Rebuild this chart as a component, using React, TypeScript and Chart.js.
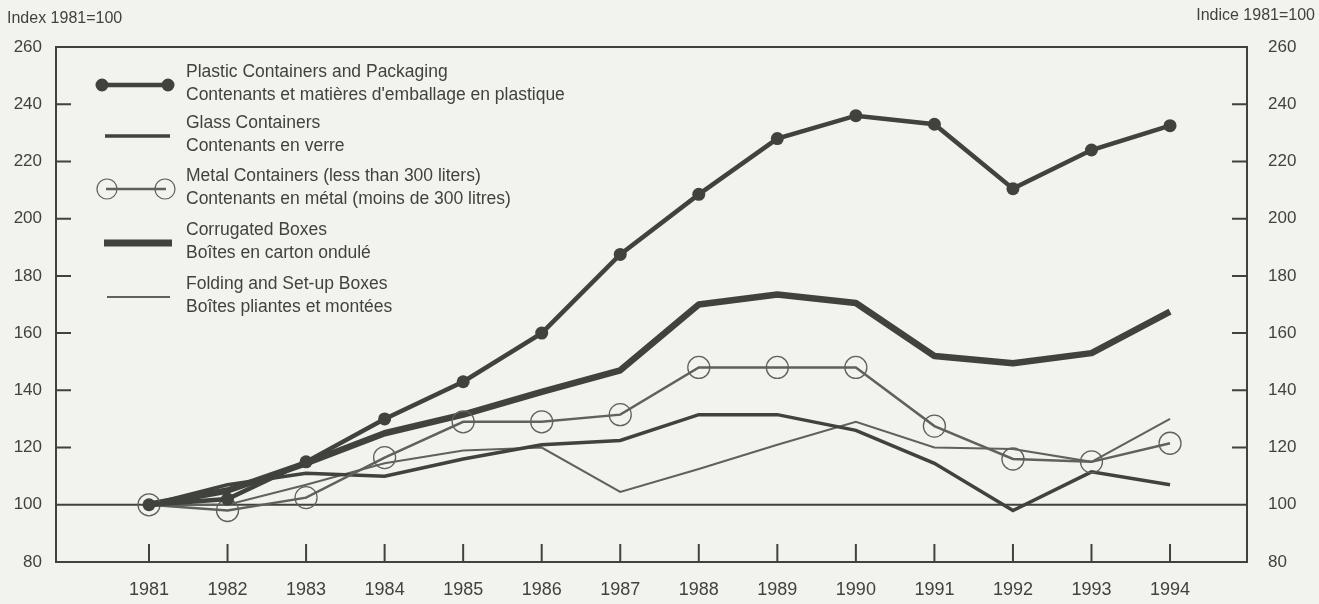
import React, { useEffect, useRef } from "react";
import { Chart, registerables } from "chart.js";

Chart.register(...registerables);

const years = [1981, 1982, 1983, 1984, 1985, 1986, 1987, 1988, 1989, 1990, 1991, 1992, 1993, 1994];
const plastic = [100, 102, 115, 130, 143, 160, 187.5, 208.5, 228, 236, 233, 210.5, 224, 232.5];
const glass = [100, 107, 111, 110, 116, 121, 122.5, 131.5, 131.5, 126, 114.5, 98, 111.5, 107];
const metal = [100, 98, 102.5, 116.5, 129, 129, 131.5, 148, 148, 148, 127.5, 116, 115, 121.5];
const corrugated = [100, 105, 114.5, 125, 131.5, 139.5, 147, 170, 173.5, 170.5, 152, 149.5, 153, 167.5];
const folding = [100, 100, 107, 114.5, 119, 120, 104.5, 112.5, 121, 129, 120, 119.5, 115, 130];
const yTickValues = [120, 140, 160, 180, 200, 220, 240];

const legendEn = [
  "Plastic Containers and Packaging",
  "Glass Containers",
  "Metal Containers (less than 300 liters)",
  "Corrugated Boxes",
  "Folding and Set-up Boxes",
];
const legendFr = [
  "Contenants et matières d'emballage en plastique",
  "Contenants en verre",
  "Contenants en métal (moins de 300 litres)",
  "Boîtes en carton ondulé",
  "Boîtes pliantes et montées",
];
const leftTitle = "Index 1981=100";
const rightTitle = "Indice 1981=100";

const INK = "#3f423d";
const LIGHT = "#5e625b";
const BG = "#f2f2ee";
const FONT = "'Liberation Sans', Arial, Helvetica, sans-serif";

const pts = (arr: number[]) => years.map((x, i) => ({ x, y: arr[i] }));

export default function App() {
  const ref = useRef<HTMLCanvasElement>(null);

  useEffect(() => {
    const canvas = ref.current;
    if (!canvas) return;

    const framePlugin = {
      id: "frame",
      beforeDraw(chart: any) {
        const c = chart.ctx;
        c.save();
        c.fillStyle = BG;
        c.fillRect(0, 0, chart.width, chart.height);
        c.restore();
      },
      beforeDatasetsDraw(chart: any) {
        const c = chart.ctx;
        const a = chart.chartArea;
        const ys = chart.scales.y;
        const xs = chart.scales.x;
        c.save();
        c.strokeStyle = INK;
        c.lineWidth = 2;
        c.strokeRect(a.left, a.top, a.right - a.left, a.bottom - a.top);
        const y100 = ys.getPixelForValue(100);
        c.beginPath();
        c.moveTo(a.left, y100);
        c.lineTo(a.right, y100);
        c.stroke();
        yTickValues.forEach((v) => {
          const y = ys.getPixelForValue(v);
          c.beginPath();
          c.moveTo(a.left, y);
          c.lineTo(a.left + 15, y);
          c.moveTo(a.right, y);
          c.lineTo(a.right - 15, y);
          c.stroke();
        });
        years.forEach((yr) => {
          const x = xs.getPixelForValue(yr);
          c.beginPath();
          c.moveTo(x, a.bottom);
          c.lineTo(x, a.bottom - 18);
          c.stroke();
        });
        c.restore();
      },
      afterDatasetsDraw(chart: any) {
        const c = chart.ctx;
        c.save();
        c.fillStyle = INK;
        c.font = `16px ${FONT}`;
        c.textBaseline = "middle";
        c.textAlign = "left";
        c.fillText(leftTitle, 7, 19);
        c.textAlign = "right";
        c.fillText(rightTitle, 1315, 16);

        // legend symbols
        const rows = [85, 136, 189, 243, 297];
        c.strokeStyle = INK;
        c.lineCap = "butt";
        // plastic
        c.lineWidth = 4.5;
        c.beginPath();
        c.moveTo(100, rows[0]);
        c.lineTo(170, rows[0]);
        c.stroke();
        c.beginPath();
        c.arc(102, rows[0], 6.5, 0, Math.PI * 2);
        c.arc(168, rows[0], 6.5, 0, Math.PI * 2);
        c.fill();
        // glass
        c.lineWidth = 3.5;
        c.beginPath();
        c.moveTo(105, rows[1]);
        c.lineTo(170, rows[1]);
        c.stroke();
        // metal
        c.strokeStyle = LIGHT;
        c.lineWidth = 2.5;
        c.beginPath();
        c.moveTo(106, rows[2]);
        c.lineTo(166, rows[2]);
        c.stroke();
        c.lineWidth = 1.2;
        c.beginPath();
        c.arc(107, rows[2], 10, 0, Math.PI * 2);
        c.stroke();
        c.beginPath();
        c.arc(165, rows[2], 10, 0, Math.PI * 2);
        c.stroke();
        // corrugated
        c.strokeStyle = INK;
        c.lineWidth = 7;
        c.beginPath();
        c.moveTo(104, rows[3]);
        c.lineTo(172, rows[3]);
        c.stroke();
        // folding
        c.strokeStyle = LIGHT;
        c.lineWidth = 2;
        c.beginPath();
        c.moveTo(107, rows[4]);
        c.lineTo(170, rows[4]);
        c.stroke();

        c.fillStyle = INK;
        c.textAlign = "left";
        c.font = `17.5px ${FONT}`;
        rows.forEach((r, i) => {
          c.fillText(legendEn[i], 186, r - 13);
          c.fillText(legendFr[i], 186, r + 10);
        });
        c.restore();
      },
    };

    const tickFont = { family: FONT, size: 17 };

    const chart = new Chart(canvas, {
      type: "line",
      data: {
        datasets: [
          {
            label: legendEn[0],
            data: pts(plastic),
            borderColor: INK,
            borderWidth: 4.5,
            pointRadius: 6.5,
            pointBackgroundColor: INK,
            pointBorderColor: INK,
            pointBorderWidth: 0,
            tension: 0,
          },
          {
            label: legendEn[2],
            data: pts(metal),
            borderColor: LIGHT,
            borderWidth: 2.5,
            pointRadius: 11,
            pointBackgroundColor: "rgba(0,0,0,0)",
            pointBorderColor: LIGHT,
            pointBorderWidth: 1.3,
            tension: 0,
          },
          {
            label: legendEn[3],
            data: pts(corrugated),
            borderColor: INK,
            borderWidth: 6.5,
            pointRadius: 0,
            borderJoinStyle: "round",
            tension: 0,
          },
          {
            label: legendEn[1],
            data: pts(glass),
            borderColor: INK,
            borderWidth: 3.5,
            pointRadius: 0,
            tension: 0,
          },
          {
            label: legendEn[4],
            data: pts(folding),
            borderColor: LIGHT,
            borderWidth: 2,
            pointRadius: 0,
            tension: 0,
          },
        ],
      },
      options: {
        responsive: false,
        animation: false,
        events: [],
        layout: { padding: { top: 47, left: 0, right: 0, bottom: 0 } },
        plugins: {
          legend: { display: false },
          tooltip: { enabled: false },
          title: { display: false },
        },
        scales: {
          x: {
            type: "linear",
            min: 1979.816,
            max: 1994.98,
            afterBuildTicks: (s: any) => {
              s.ticks = years.map((v) => ({ value: v }));
            },
            afterFit: (s: any) => {
              s.height = 42;
            },
            ticks: {
              callback: (v: any) => String(v),
              font: { family: FONT, size: 18 },
              color: INK,
              padding: 17,
              autoSkip: false,
              maxRotation: 0,
            },
            grid: { display: false, drawTicks: false },
            border: { display: false },
          },
          y: {
            position: "left",
            min: 80,
            max: 260,
            afterFit: (s: any) => {
              s.width = 56;
            },
            ticks: { stepSize: 20, font: tickFont, color: INK, padding: 14 },
            grid: { display: false, drawTicks: false },
            border: { display: false },
          },
          y2: {
            position: "right",
            min: 80,
            max: 260,
            afterFit: (s: any) => {
              s.width = 72;
            },
            ticks: { stepSize: 20, font: tickFont, color: INK, padding: 21 },
            grid: { display: false, drawTicks: false },
            border: { display: false },
          },
        },
      },
      plugins: [framePlugin],
    } as any);

    return () => chart.destroy();
  }, []);

  return (
    <canvas
      ref={ref}
      width={1319}
      height={604}
      style={{ position: "fixed", left: 0, top: 0, display: "block" }}
    />
  );
}
